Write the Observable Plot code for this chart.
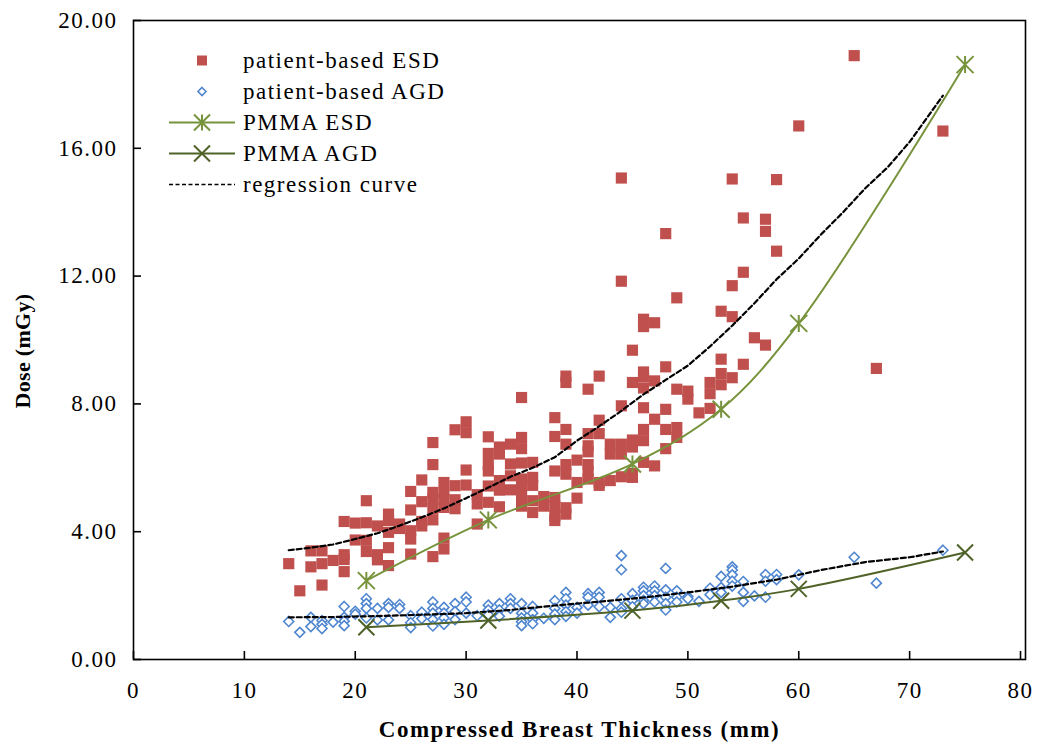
<!DOCTYPE html>
<html>
<head>
<meta charset="utf-8">
<script src="https://cdn.jsdelivr.net/npm/d3@7"></script>
<script src="https://cdn.jsdelivr.net/npm/@observablehq/plot@0.6"></script>
<style>
  html, body { margin: 0; padding: 0; background: white; }
  #wrap { position: relative; width: 1046px; height: 747px; }
  #legend { position: absolute; left: 166px; top: 45px; font-family: 'Liberation Serif', 'Times New Roman', serif; font-size: 23px; letter-spacing: 1.5px; color: black; }
  .row { display: flex; align-items: center; height: 31px; }
  .row svg { width: 72px; height: 31px; flex: none; }
  .row span { margin-left: 5px; line-height: 31px; }
</style>
</head>
<body>
<div id="wrap"></div>
<script>
// ---- tick values ----
const xTicks = [0, 10, 20, 30, 40, 50, 60, 70, 80];
const yTicks = [0, 4, 8, 12, 16, 20];

// ---- patient-based ESD (thickness mm, dose mGy) ----
const patientESD = [
  [14,3.0],[15,2.15],[16,3.4],[16,2.9],[17,3.4],[17,3.0],[17,2.33],[18,3.1],
  [19,4.32],[19,3.28],[19,3.13],[19,2.75],[20,4.27],[20,3.74],
  [21,4.97],[21,4.28],[21,3.73],[21,3.38],[22,4.18],[22,3.28],[22,3.12],
  [23,4.55],[23,4.35],[23,3.98],[23,3.5],[23,2.94],[24,4.24],[24,4.1],
  [25,5.26],[25,4.68],[25,4.03],[25,3.77],[25,3.3],[26,5.62],[26,4.94],[26,4.32],[26,4.18],
  [27,6.79],[27,6.1],[27,5.23],[27,5.02],[27,4.71],[27,4.37],[27,3.22],
  [28,5.54],[28,5.2],[28,5.0],[28,4.76],[28,3.8],[28,3.46],
  [29,7.19],[29,5.44],[29,5.0],[29,4.72],[30,7.44],[30,7.1],[30,5.93],[30,5.46],
  [31,5.16],[31,4.87],[31,4.24],[32,6.97],[32,6.45],[32,6.1],[32,5.9],[32,5.43],[32,4.92],
  [33,6.65],[33,6.43],[33,5.6],[33,5.3],[33,4.78],[34,6.74],[34,6.12],[34,5.75],[34,5.31],
  [35,8.2],[35,6.95],[35,6.6],[35,6.15],[35,5.65],[35,5.4],[35,5.1],[35,4.8],
  [36,6.17],[36,5.7],[36,5.45],[36,4.97],[36,4.6],[37,5.1],[37,4.8],
  [38,7.57],[38,6.98],[38,5.9],[38,5.07],[38,4.8],[38,4.5],[38,4.35],
  [39,8.87],[39,8.67],[39,7.2],[39,6.74],[39,6.1],[39,5.8],[39,4.75],[39,4.55],
  [40,6.24],[40,5.54],[40,5.05],[41,8.46],[41,7.07],[41,6.69],[41,6.5],[41,6.1],[41,5.9],[41,5.65],
  [42,8.87],[42,7.49],[42,7.07],[42,5.54],[42,5.45],[43,6.74],[43,6.43],[43,5.6],
  [44,15.07],[44,11.84],[44,7.94],[44,6.74],[44,6.43],[44,5.72],
  [45,9.68],[45,8.67],[45,6.87],[45,6.65],[45,5.82],[45,5.7],
  [46,10.65],[46,10.42],[46,9.0],[46,8.85],[46,8.5],[46,7.88],[46,7.2],[46,6.85],[46,6.17],
  [47,10.54],[47,8.72],[47,7.52],[47,6.06],[48,13.33],[48,9.16],[48,7.83],[48,7.2],[48,6.6],
  [49,11.32],[49,8.46],[49,7.26],[49,6.95],[50,8.4],[50,8.15],[51,7.72],
  [52,8.67],[52,8.32],[52,7.86],[53,10.9],[53,9.4],[53,8.95],[53,8.6],
  [54,15.04],[54,11.7],[54,10.73],[54,8.82],[55,13.82],[55,12.12],[55,9.24],[56,10.07],
  [57,13.78],[57,13.4],[57,9.84],[58,15.02],[58,12.78],[60,16.7],[65,18.9],[67,9.11],[73,16.54]
];

// ---- patient-based AGD ----
const patientAGD = [
  [14,1.19],[15,0.85],[16,1.32],[16,1.03],[17,1.22],[17,1.1],[17,0.97],[18,1.17],
  [19,1.66],[19,1.32],[19,1.2],[19,1.06],[20,1.51],[20,1.42],
  [21,1.9],[21,1.75],[21,1.6],[21,1.3],[22,1.6],[22,1.24],[23,1.75],[23,1.63],[23,1.24],
  [24,1.72],[24,1.6],[25,1.37],[25,1.15],[25,1.0],[26,1.48],[26,1.28],
  [27,1.8],[27,1.6],[27,1.45],[27,1.25],[27,1.05],[28,1.63],[28,1.45],[28,1.3],[28,1.1],
  [29,1.75],[29,1.5],[29,1.25],[30,1.95],[30,1.8],[30,1.45],[31,1.37],
  [32,1.7],[32,1.55],[32,1.4],[33,1.75],[33,1.55],[33,1.35],[34,1.9],[34,1.75],[34,1.6],
  [35,1.75],[35,1.45],[35,1.3],[35,1.18],[35,1.06],[36,1.66],[36,1.45],[36,1.25],[36,1.12],
  [37,1.29],[38,1.84],[38,1.6],[38,1.42],[38,1.25],[39,2.1],[39,1.9],[39,1.7],[39,1.5],[39,1.35],
  [40,1.63],[40,1.45],[41,2.06],[41,1.95],[41,1.7],[42,2.1],[42,1.95],[42,1.65],[43,1.63],[43,1.32],
  [44,3.25],[44,2.81],[44,1.9],[44,1.6],[44,1.48],[45,2.06],[45,1.85],[45,1.65],
  [46,2.26],[46,2.15],[46,2.0],[46,1.85],[46,1.75],[47,2.3],[47,2.15],[47,2.0],[47,1.8],
  [48,2.85],[48,2.18],[48,1.95],[48,1.75],[48,1.55],[49,2.15],[49,1.95],[49,1.8],
  [50,1.97],[50,1.9],[51,1.82],[52,2.23],[52,2.03],[53,2.6],[53,2.25],[53,2.1],
  [54,2.9],[54,2.8],[54,2.65],[54,2.45],[54,2.3],[55,2.44],[55,2.1],[55,1.82],[56,1.99],
  [57,2.66],[57,2.45],[57,1.95],[58,2.66],[58,2.5],[60,2.65],[65,3.2],[67,2.39],[73,3.42]
];

// ---- PMMA phantom series ----
const pmmaThickness = [21, 32, 45, 53, 60, 75];
const pmmaESD = [2.47, 4.37, 6.12, 7.83, 10.52, 18.62];
const pmmaAGD = [1.01, 1.22, 1.53, 1.84, 2.21, 3.35];

// ---- regression curves ----
const regESD = [
  [14,3.42],[16,3.5],[18,3.6],[20,3.77],[22,3.95],[24,4.19],[26,4.45],[28,4.73],[30,5.05],
  [32,5.38],[34,5.72],[36,6.0],[38,6.33],[40,6.85],[42,7.3],[44,7.78],[46,8.3],[48,8.75],
  [50,9.2],[52,9.8],[54,10.45],[56,11.15],[58,11.9],[60,12.55],[62,13.3],[64,14.0],
  [66,14.75],[68,15.4],[70,16.2],[73,17.65]
];
const regAGD = [
  [14,1.32],[18,1.33],[22,1.36],[26,1.4],[30,1.45],[34,1.55],[38,1.69],[42,1.81],
  [46,1.94],[50,2.1],[54,2.28],[58,2.5],[62,2.8],[66,3.05],[70,3.2],[73,3.38]
];

const RED = "#C0504D", BLUE = "#4F86CF", GREEN = "#77933C", DKGREEN = "#4F6228";

const pmmaESDData = pmmaThickness.map((t, i) => ({t, v: pmmaESD[i]}));
const pmmaAGDData = pmmaThickness.map((t, i) => ({t, v: pmmaAGD[i]}));

const starSym = {draw(ctx, size) {
  const a = Math.sqrt(size / Math.PI);
  ctx.moveTo(-a, -a); ctx.lineTo(a, a);
  ctx.moveTo(-a, a); ctx.lineTo(a, -a);
  ctx.moveTo(0, -a); ctx.lineTo(0, a);
}};
const crossSym = {draw(ctx, size) {
  const a = Math.sqrt(size / Math.PI);
  ctx.moveTo(-a, -a); ctx.lineTo(a, a);
  ctx.moveTo(-a, a); ctx.lineTo(a, -a);
}};

const chart = Plot.plot({
  width: 1046,
  height: 747,
  marginLeft: 133,
  marginRight: 21,
  marginTop: 20,
  marginBottom: 88,
  x: {domain: [0, 80.45]},
  y: {domain: [0, 20]},
  style: {fontFamily: "'Liberation Serif', 'Times New Roman', serif", fontSize: "23px", color: "black", background: "white", overflow: "visible", letterSpacing: "1.5px"},
  marks: [
    Plot.dot(patientESD, {x: d => d[0], y: d => d[1], symbol: "square", r: 6.3, fill: RED, stroke: "none"}),
    Plot.dot(patientAGD, {x: d => d[0], y: d => d[1], symbol: "diamond2", r: 4.5, fill: "white", stroke: BLUE, strokeWidth: 1.6}),
    Plot.line(pmmaESDData, {x: "t", y: "v", stroke: GREEN, strokeWidth: 2, curve: "catmull-rom"}),
    Plot.line(pmmaAGDData, {x: "t", y: "v", stroke: DKGREEN, strokeWidth: 2, curve: "catmull-rom"}),
    Plot.line(regESD, {x: d => d[0], y: d => d[1], stroke: "black", strokeWidth: 2.2, strokeDasharray: "5,3"}),
    Plot.line(regAGD, {x: d => d[0], y: d => d[1], stroke: "black", strokeWidth: 2.2, strokeDasharray: "5,3"}),
    Plot.dot(pmmaESDData, {x: "t", y: "v", symbol: starSym, r: 8.5, stroke: GREEN, strokeWidth: 2, fill: "none"}),
    Plot.dot(pmmaAGDData, {x: "t", y: "v", symbol: crossSym, r: 8, stroke: DKGREEN, strokeWidth: 2, fill: "none"}),
    Plot.frame({stroke: "black", strokeWidth: 1.6}),
    Plot.axisX(xTicks, {tickSize: -8, tickPadding: 30, strokeWidth: 1.6, tickFormat: d => String(d), label: null}),
    Plot.axisY(yTicks, {tickSize: -8, tickPadding: 24, strokeWidth: 1.6, tickFormat: d => d.toFixed(2), label: null}),
    Plot.text(["Compressed Breast Thickness (mm)"], {frameAnchor: "bottom", dy: 77, textAnchor: "middle", fontWeight: "bold", fontSize: 23}),
    Plot.text(["Dose (mGy)"], {frameAnchor: "left", dx: -111, dy: 11, textAnchor: "middle", rotate: -90, fontWeight: "bold", fontSize: 22})
  ]
});

// The rotated y title is drawn at its natural width
d3.select(chart).selectAll("text").filter(function() { return this.textContent === "Dose (mGy)"; }).style("letter-spacing", "0.3px");

const wrap = document.getElementById("wrap");
wrap.appendChild(chart);

// ---- legend ----
const legendItems = [
  {label: "patient-based ESD", kind: "square"},
  {label: "patient-based AGD", kind: "diamond"},
  {label: "PMMA ESD", kind: "star"},
  {label: "PMMA AGD", kind: "cross"},
  {label: "regression curve", kind: "dash"}
];
const legend = document.createElement("div");
legend.id = "legend";
for (const it of legendItems) {
  const row = document.createElement("div");
  row.className = "row";
  let sw = "";
  const cx = 36, cy = 15.5;
  if (it.kind === "square") sw = `<rect x="${cx-5}" y="${cy-5}" width="10" height="10" fill="${RED}"/>`;
  if (it.kind === "diamond") sw = `<path d="M${cx},${cy-4}L${cx+4},${cy}L${cx},${cy+4}L${cx-4},${cy}Z" fill="white" stroke="${BLUE}" stroke-width="1.6"/>`;
  if (it.kind === "star") sw = `<line x1="3" x2="69" y1="${cy}" y2="${cy}" stroke="${GREEN}" stroke-width="2"/><path d="M${cx-8},${cy-8}L${cx+8},${cy+8}M${cx-8},${cy+8}L${cx+8},${cy-8}M${cx},${cy-8}L${cx},${cy+8}" stroke="${GREEN}" stroke-width="2" fill="none"/>`;
  if (it.kind === "cross") sw = `<line x1="3" x2="69" y1="${cy}" y2="${cy}" stroke="${DKGREEN}" stroke-width="2"/><path d="M${cx-8},${cy-8}L${cx+8},${cy+8}M${cx-8},${cy+8}L${cx+8},${cy-8}" stroke="${DKGREEN}" stroke-width="2" fill="none"/>`;
  if (it.kind === "dash") sw = `<line x1="3" x2="69" y1="${cy}" y2="${cy}" stroke="black" stroke-width="1.6" stroke-dasharray="4,2.5"/>`;
  row.innerHTML = `<svg viewBox="0 0 72 31">${sw}</svg><span>${it.label}</span>`;
  legend.appendChild(row);
}
wrap.appendChild(legend);
</script>
</body>
</html>
